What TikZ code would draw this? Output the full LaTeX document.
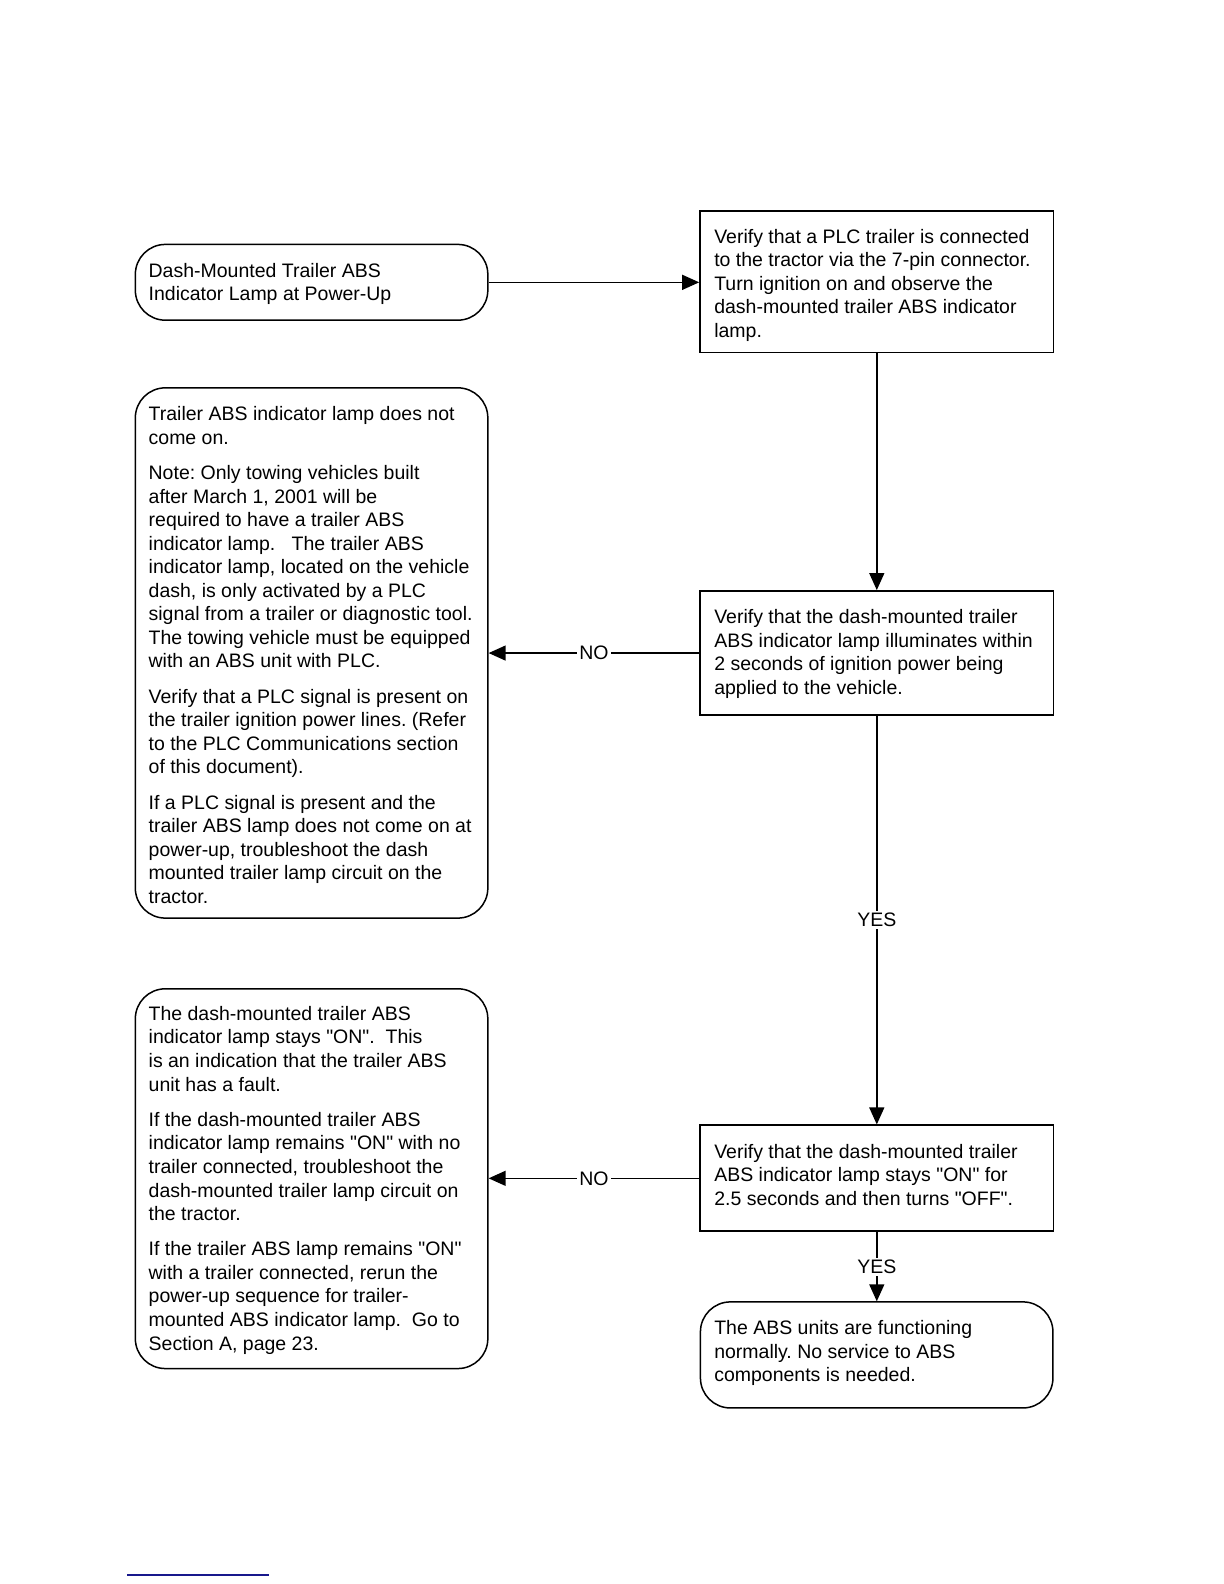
\documentclass[tikz,border=0pt]{standalone}
\usepackage{fontspec}
\setmainfont{Liberation Sans}[Ligatures=TeXOff]
\usetikzlibrary{arrows.meta}
\definecolor{navyline}{RGB}{24,24,140}
\begin{document}
\begin{tikzpicture}[x=1pt,y=-1pt,scale=1.01,every node/.append style={transform shape},
  rbox/.style={draw, line width=1.5pt, rounded corners=30pt, minimum width=349pt, inner sep=0pt},
  sbox/.style={draw, line width=1.7pt, minimum width=350pt, inner sep=0pt},
  txt/.style={anchor=west, align=left, inner sep=0pt, font=\frenchspacing\fontsize{19.3}{23.3}\selectfont},
  arr/.style={line width=1.4pt, -{Triangle[length=17pt,width=15pt]}},
  lbl/.style={fill=white, inner sep=2pt, font=\fontsize{19.3}{23.3}\selectfont}]
\useasboundingbox (0,0) rectangle (1211.88,1568.32);

\node[rbox, minimum height=75pt] (start) at (308.5,279.5) {};
\node[txt] (tstart) at (147,281) {Dash-Mounted Trailer ABS\\Indicator Lamp at Power-Up};

\node[sbox, minimum height=140pt] (A) at (868,279) {};
\node[txt] (tA) at (707,282.5) {Verify that a PLC trailer is connected\\to the tractor via the 7-pin connector.\\Turn ignition on and observe the\\dash-mounted trailer ABS indicator\\lamp.};

\node[rbox, minimum height=525pt] (L1) at (308.5,646.5) {};
\node[txt] (tL1) at (147,648.5) {Trailer ABS indicator lamp does not\\come on.\\[11.7pt]
Note: Only towing vehicles built\\after March 1, 2001 will be\\required to have a trailer ABS\\indicator lamp.\ \ \ The trailer ABS\\indicator lamp, located on the vehicle\\dash, is only activated by a PLC\\signal from a trailer or diagnostic tool.\\The towing vehicle must be equipped\\with an ABS unit with PLC.\\[11.7pt]
Verify that a PLC signal is present on\\the trailer ignition power lines. (Refer\\to the PLC Communications section\\of this document).\\[11.7pt]
If a PLC signal is present and the\\trailer ABS lamp does not come on at\\power-up, troubleshoot the dash\\mounted trailer lamp circuit on the\\tractor.};

\node[sbox, minimum height=123pt] (B) at (868,646.5) {};
\node[txt] (tB) at (707,647.5) {Verify that the dash-mounted trailer\\ABS indicator lamp illuminates within\\2 seconds of ignition power being\\applied to the vehicle.};

\node[rbox, minimum height=376pt] (L2) at (308.5,1167) {};
\node[txt] (tL2) at (147,1168.5) {The dash-mounted trailer ABS\\indicator lamp stays "ON".\ \ This\\is an indication that the trailer ABS\\unit has a fault.\\[11.7pt]
If the dash-mounted trailer ABS\\indicator lamp remains "ON" with no\\trailer connected, troubleshoot the\\dash-mounted trailer lamp circuit on\\the tractor.\\[11.7pt]
If the trailer ABS lamp remains "ON"\\with a trailer connected, rerun the\\power-up sequence for trailer-\\mounted ABS indicator lamp.\ \ Go to\\Section A, page 23.};

\node[sbox, minimum height=105pt] (C) at (868,1166.5) {};
\node[txt] (tC) at (707,1163) {Verify that the dash-mounted trailer\\ABS indicator lamp stays "ON" for\\2.5 seconds and then turns "OFF".};

\node[rbox, minimum height=105pt] (E) at (868,1341.5) {};
\node[txt] (tE) at (707,1340) {The ABS units are functioning\\normally. No service to ABS\\components is needed.};

\draw[arr] (start.east) -- (start.east -| A.west);
\draw[arr] (A.south) -- (B.north);
\draw[arr] (B.west) -- node[lbl] (no1) {NO} (B.west -| L1.east);
\draw[arr] (B.south) -- node[lbl] (yes1) {YES} (C.north);
\draw[arr] (C.west) -- node[lbl] (no2) {NO} (C.west -| L2.east);
\draw[arr] (C.south) -- node[lbl] (yes2) {YES} (E.north);

\coordinate (u1) at (126,1559);
\coordinate (u2) at (266,1559);
\draw[navyline, line width=2pt] (u1) -- (u2);
\end{tikzpicture}
\end{document}
